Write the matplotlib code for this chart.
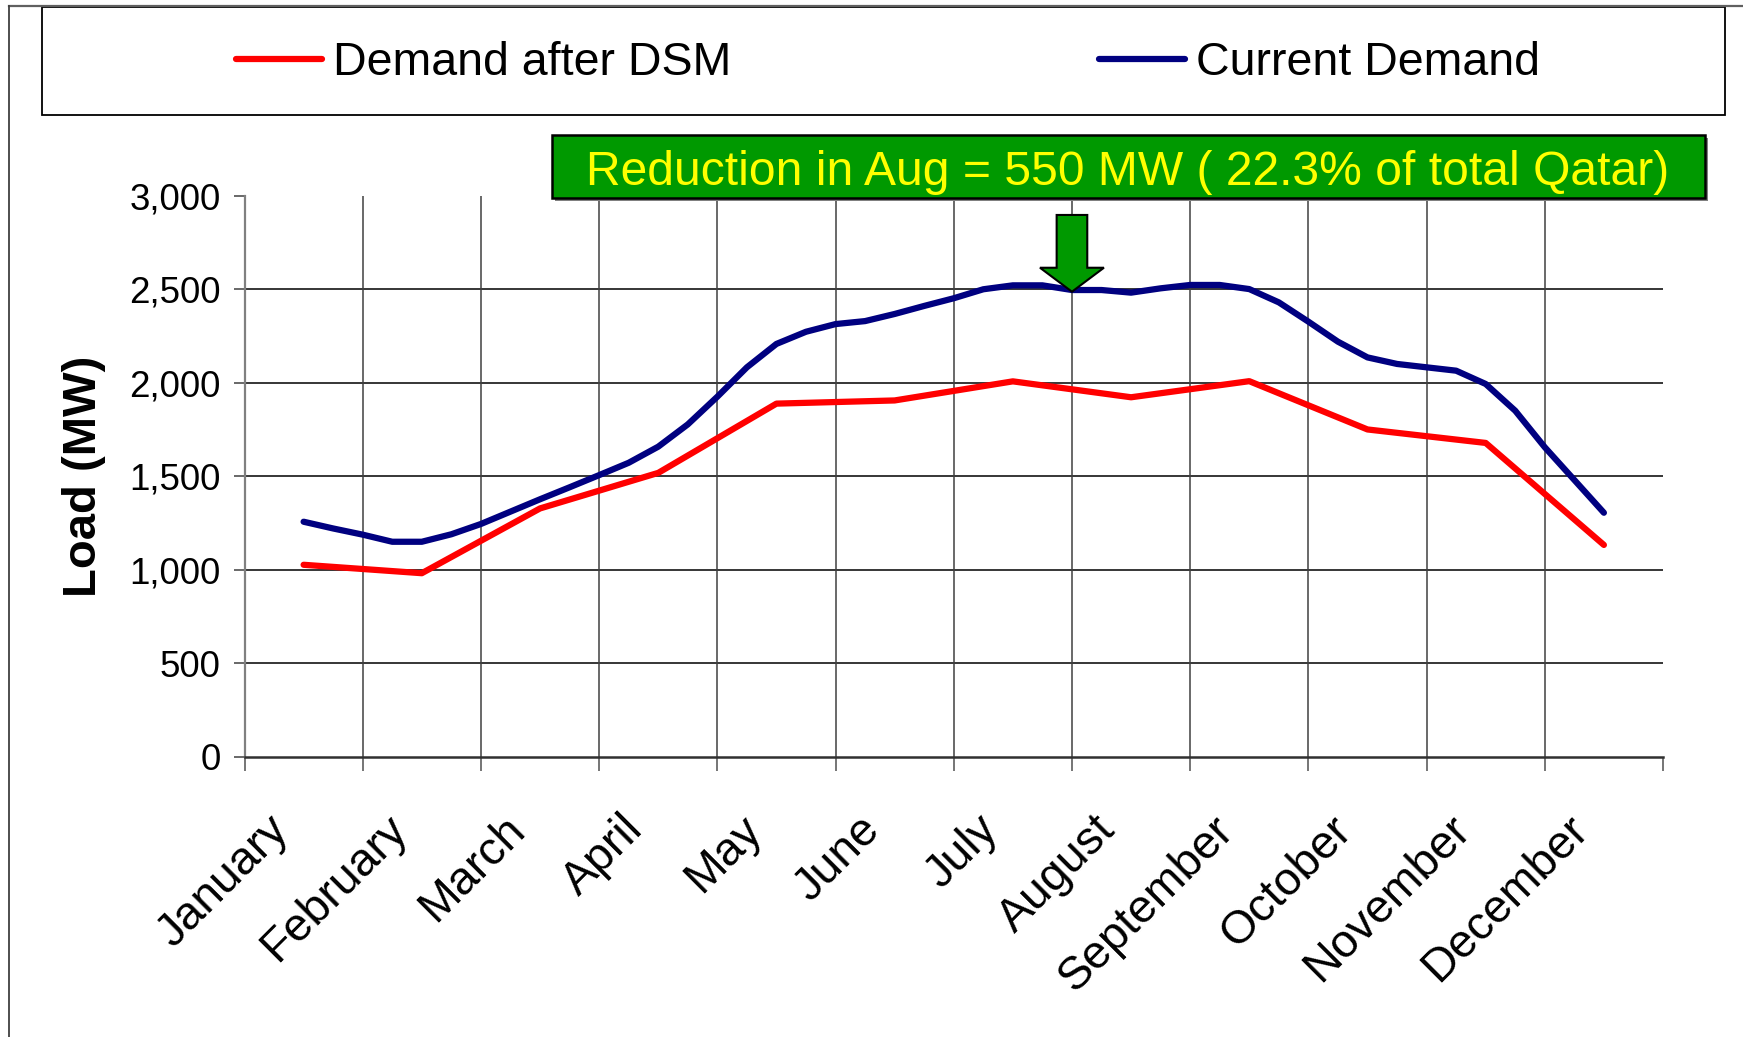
import numpy as np
import matplotlib
matplotlib.use("Agg")
import matplotlib.pyplot as plt
from matplotlib.lines import Line2D
from matplotlib.patches import Rectangle, FancyArrow
from matplotlib.transforms import ScaledTranslation

plt.rcParams['font.family'] = ['Liberation Sans', 'DejaVu Sans']

# ---------------- data ----------------
months = ["January", "February", "March", "April", "May", "June", "July",
          "August", "September", "October", "November", "December"]
demand_after_dsm = [1027, 982, 1328, 1518, 1888, 1905, 2007, 1922, 2008, 1750, 1678, 1133]
# current demand, read at quarter-month steps from mid-January to mid-December
current_demand = [1257, 1221, 1188, 1150, 1150, 1190, 1245, 1311, 1377, 1441,
                  1506, 1572, 1658, 1777, 1925, 2082, 2207, 2272, 2313, 2329,
                  2367, 2410, 2451, 2499, 2520, 2520, 2495, 2495, 2481, 2504,
                  2522, 2522, 2500, 2429, 2326, 2219, 2135, 2100, 2082, 2064,
                  1993, 1850, 1655, 1480, 1305]
yticks = [0, 500, 1000, 1500, 2000, 2500, 3000]
annotation = "Reduction in Aug = 550 MW ( 22.3% of total Qatar)"
series_labels = ["Demand after DSM", "Current Demand"]

W, H = 1743, 1037
fig = plt.figure(figsize=(W / 100, H / 100), dpi=100)
ax = fig.add_axes([244.5 / W, 1 - 757 / H, (1663 - 244.5) / W, (757 - 195.5) / H])

x_month = np.arange(len(months))
x_cur = np.arange(len(current_demand)) / 4.0

red, = ax.plot(x_month, demand_after_dsm, color='#FF0000', lw=4.5,
               solid_joinstyle='round', solid_capstyle='round', zorder=3)
blue, = ax.plot(x_cur, current_demand, color='#000080', lw=4.5,
                solid_joinstyle='round', solid_capstyle='round', zorder=3)

ax.set_xlim(-0.5, len(months) - 0.5)
ax.set_ylim(0, 3000)

# grid lines
ax.hlines(yticks[1:-1], -0.5, len(months) - 0.5, colors='black', lw=1.1, zorder=1)
bounds = np.arange(-0.5, len(months), 1.0)
ax.vlines(bounds[1:-1], 0, 1, transform=ax.get_xaxis_transform(),
          colors='#404040', lw=1.1, zorder=1)

# spines
for s in ['top', 'right']:
    ax.spines[s].set_visible(False)
ax.spines['left'].set_color('#808080')
ax.spines['left'].set_linewidth(1.6)
ax.spines['bottom'].set_color('#303030')
ax.spines['bottom'].set_linewidth(1.8)

# y axis
ax.set_yticks(yticks)
ax.set_yticklabels([f"{v:,}" for v in yticks], fontsize=26.5)
ax.tick_params(axis='y', direction='out', length=8, width=1.1, color='#404040', pad=9.0)
ax.set_ylabel("Load (MW)", fontsize=34, fontweight='bold', va='center')
ax.yaxis.set_label_coords((84 - 244.5) / (1663 - 244.5), 0.5)

# x axis: ticks at boundaries, labels at centres
ax.set_xticks(bounds)
ax.set_xticklabels([])
ax.tick_params(axis='x', direction='out', length=10, width=1.1, color='#505050')
off = ScaledTranslation(-0.22, -0.66, fig.dpi_scale_trans)
for i, m in enumerate(months):
    ax.text(i, 0, m, transform=ax.get_xaxis_transform() + off, rotation=45,
            ha='right', va='center', rotation_mode='anchor', fontsize=33.5,
            clip_on=False)

# arrow pointing at August dip
arrow = FancyArrow(6.5, 2896, 0, 2486 - 2896, width=0.259, head_width=0.541,
                   head_length=128, length_includes_head=True,
                   fc='#009900', ec='black', lw=1.5, zorder=6, clip_on=False)
ax.add_patch(arrow)

# outer frame lines
fig.add_artist(Line2D([9 / W, 1], [1 - 6 / H, 1 - 6 / H], transform=fig.transFigure,
                      color='#606060', lw=1.6))
fig.add_artist(Line2D([9 / W, 9 / W], [0, 1 - 6 / H], transform=fig.transFigure,
                      color='#404040', lw=1.3))

# legend box + legend
fig.add_artist(Rectangle((42 / W, 1 - 115 / H), (1725 - 42) / W, (115 - 7) / H,
                         transform=fig.transFigure, fill=False, ec='black', lw=1.3))
fig.legend([red, blue], series_labels, loc='center',
           bbox_to_anchor=(888 / W, 1 - 63 / H), ncol=2, frameon=False,
           fontsize=33.5, handlelength=1.85, handletextpad=0.24,
           columnspacing=7.9, borderpad=0, borderaxespad=0)

# annotation box
bx0, bx1, by0, by1 = 552, 1705, 135, 198
fig.add_artist(Rectangle(((bx0 + 3) / W, 1 - (by1 + 3) / H), (bx1 - bx0) / W, (by1 - by0) / H,
                         transform=fig.transFigure, fc='#808080', ec='none', zorder=4))
fig.add_artist(Rectangle((bx0 / W, 1 - by1 / H), (bx1 - bx0) / W, (by1 - by0) / H,
                         transform=fig.transFigure, fc='#009900', ec='black', lw=1.8, zorder=5))
fig.text(1128 / W, 1 - 172.5 / H, annotation, color='#FFFF00', fontsize=34.6,
         ha='center', va='center', zorder=6)

fig.savefig("out.png", dpi=100)
